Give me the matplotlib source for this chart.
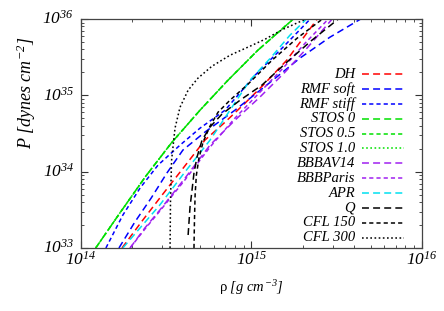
import numpy as np
import matplotlib
matplotlib.use('Agg')
import matplotlib.pyplot as plt
from matplotlib.ticker import NullFormatter, LogLocator
from matplotlib.transforms import ScaledTranslation

plt.rcParams['mathtext.fontset'] = 'custom'
plt.rcParams['mathtext.rm'] = 'Liberation Serif:italic'
plt.rcParams['mathtext.it'] = 'Liberation Serif:italic'
plt.rcParams['mathtext.bf'] = 'Liberation Serif:italic'
plt.rcParams['lines.scale_dashes'] = False

# equations of state: density [g cm^-3] and pressure [dynes cm^-2]
stos_rho = [1.22e14, 1.69e14, 2.40e14, 3.42e14, 4.99e14, 7.28e14, 1.09e15, 1.75e15]
stos_P = [1e33, 2.87e33, 8.75e33, 2.44e34, 6.4e34, 1.58e35, 3.91e35, 9.9e35]

dh_rho = [1.74e14, 2.28e14, 2.99e14, 4.02e14, 5.33e14, 7.0e14, 9.16e14, 1.17e15, 1.61e15, 2.42e15]
dh_P = [1e33, 2.25e33, 4.94e33, 1.15e34, 2.59e34, 4.46e34, 7.9e34, 1.36e35, 2.89e35, 9.9e35]

rmfsoft_rho = [1.67e14, 2.07e14, 2.58e14, 3.19e14, 3.96e14, 5.33e14, 8.0e14, 1.29e15, 1.92e15, 2.88e15, 4.33e15]
rmfsoft_P = [1e33, 2.19e33, 4.51e33, 9.6e33, 1.92e34, 3.30e34, 6.4e34, 1.49e35, 3.07e35, 5.78e35, 9.9e35]

rmfstiff_rho = [1.40e14, 1.76e14, 2.22e14, 2.83e14, 3.81e14, 4.99e14, 7.0e14, 1.05e15, 1.57e15, 2.20e15]
rmfstiff_P = [1e33, 2.7e33, 6.1e33, 1.22e34, 2.23e34, 3.72e34, 6.4e34, 1.84e35, 4.54e35, 9.9e35]

av14_rho = [1.94e14, 2.37e14, 2.90e14, 4.07e14, 5.71e14, 8.0e14, 1.12e15, 1.57e15, 2.14e15, 2.96e15]
av14_P = [1e33, 1.83e33, 3.14e33, 8.2e33, 2.23e34, 4.73e34, 9.5e34, 2.01e35, 4.28e35, 9.9e35]

paris_rho = [1.94e14, 2.37e14, 2.90e14, 4.07e14, 5.71e14, 8.0e14, 1.12e15, 1.53e15, 2.06e15, 2.81e15]
paris_P = [1e33, 1.77e33, 3.05e33, 7.8e33, 2.10e34, 5.04e34, 1.10e35, 2.27e35, 4.82e35, 9.9e35]

apr_rho = [1.76e14, 2.22e14, 2.90e14, 4.07e14, 5.71e14, 7.48e14, 9.8e14, 1.29e15, 1.68e15, 2.09e15]
apr_P = [1e33, 1.83e33, 3.66e33, 9.9e33, 2.59e34, 6.4e34, 1.58e35, 3.07e35, 6.14e35, 9.9e35]

q_rho = [4.25e14, 4.36e14, 4.48e14, 4.60e14, 4.79e14, 5.13e14, 5.71e14, 6.71e14, 8.57e14, 1.15e15, 1.61e15, 2.26e15, 3.21e15]
q_P = [1.48e33, 3.44e33, 5.74e33, 9.6e33, 1.55e34, 2.59e34, 3.84e34, 5.68e34, 8.65e34, 1.36e35, 2.72e35, 5.28e35, 9.9e35]

cfl150_rho = [4.60e14, 4.63e14, 4.67e14, 4.75e14, 4.92e14, 5.20e14, 5.71e14, 6.37e14, 7.48e14, 9.53e14, 1.32e15, 1.85e15, 2.59e15]
cfl150_P = [1e33, 2.32e33, 4.94e33, 9.0e33, 1.51e34, 2.44e34, 3.95e34, 6.03e34, 8.65e34, 1.40e35, 2.89e35, 5.61e35, 9.9e35]

cfl300_rho = [3.33e14, 3.35e14, 3.40e14, 3.56e14, 3.81e14, 4.25e14, 4.85e14, 5.86e14, 7.48e14, 9.8e14, 1.20e15, 1.53e15, 2.06e15]
cfl300_P = [1e33, 4.25e33, 1.42e34, 3.72e34, 7.0e34, 1.17e35, 1.68e35, 2.41e35, 3.36e35, 4.41e35, 5.44e35, 7.35e35, 9.9e35]

long_d = (5, 3)
short_d = (3, 2.2)
dot_d = (1.2, 1.8)

red = '#ff0000'
blue = '#0000ff'
green = '#00e000'
purple = '#a020f0'
cyan = '#00e0f0'

curves = [
    ('DH', dh_rho, dh_P, red, long_d),
    ('RMF soft', rmfsoft_rho, rmfsoft_P, blue, long_d),
    ('RMF stiff', rmfstiff_rho, rmfstiff_P, blue, short_d),
    ('STOS 0', stos_rho, stos_P, green, long_d),
    ('STOS 0.5', stos_rho, stos_P, green, short_d),
    ('STOS 1.0', stos_rho, stos_P, green, dot_d),
    ('BBBAV14', av14_rho, av14_P, purple, long_d),
    ('BBBParis', paris_rho, paris_P, purple, short_d),
    ('APR', apr_rho, apr_P, cyan, long_d),
    ('Q', q_rho, q_P, 'black', long_d),
    ('CFL 150', cfl150_rho, cfl150_P, 'black', short_d),
    ('CFL 300', cfl300_rho, cfl300_P, 'black', dot_d),
]

fig = plt.figure(figsize=(4.44, 3.11), dpi=100)
ax = fig.add_axes([0.1824, 0.2026, 0.768, 0.736])

for name, r, p, c, d in curves:
    ax.plot(r, p, color=c, lw=1.1, dashes=d)

ax.set_xscale('log')
ax.set_yscale('log')
ax.set_xlim(1e14, 1e16)
ax.set_ylim(1e33, 1e36)

ax.set_xticks([1e14, 1e15, 1e16])
ax.set_xticklabels([r'$10^{14}$', r'$10^{15}$', r'$10^{16}$'])
ax.set_yticks([1e33, 1e34, 1e35, 1e36])
ax.set_yticklabels([r'$10^{33}$', r'$10^{34}$', r'$10^{35}$', r'$10^{36}$'])
ax.xaxis.set_minor_locator(LogLocator(base=10, subs=np.arange(2, 10)))
ax.yaxis.set_minor_locator(LogLocator(base=10, subs=np.arange(2, 10)))
ax.xaxis.set_minor_formatter(NullFormatter())
ax.yaxis.set_minor_formatter(NullFormatter())
ax.tick_params(which='both', direction='in', top=True, right=True, labelsize=12.5, color='#333333')
ax.tick_params(which='major', length=5, width=0.8)
ax.tick_params(which='minor', length=2.5, width=0.6)
ax.tick_params(axis='x', pad=2)
ax.tick_params(axis='y', pad=5)
for lab in ax.get_yticklabels():
    lab.set_va('baseline')
    lab.set_transform(lab.get_transform() + ScaledTranslation(0, -0.05, fig.dpi_scale_trans))
for s in ax.spines.values():
    s.set_linewidth(0.9)
    s.set_color('#444444')

ax.set_xlabel(u'\u03c1 $[g\\ cm^{-3}]$', family='Liberation Serif', fontsize=10.5)
ax.xaxis.set_label_coords(0.5, -0.13)
ax.set_ylabel(r'$P\ [dynes\ cm^{-2}]$', fontsize=13)
ax.yaxis.set_label_coords(-0.125, 0.68)

# gnuplot style key: right aligned labels, sample line after
for i, (name, r, p, c, d) in enumerate(curves):
    yy = (248 - (74 + 14.88 * i)) / 229.0
    ax.text(0.8035, yy, name, transform=ax.transAxes, ha='right', va='center',
            family='Liberation Serif', style='italic', fontsize=10.5)
    ax.plot([0.824, 0.947], [yy, yy], transform=ax.transAxes, color=c, lw=1.1, dashes=d)

fig.savefig('out.png', dpi=100)
